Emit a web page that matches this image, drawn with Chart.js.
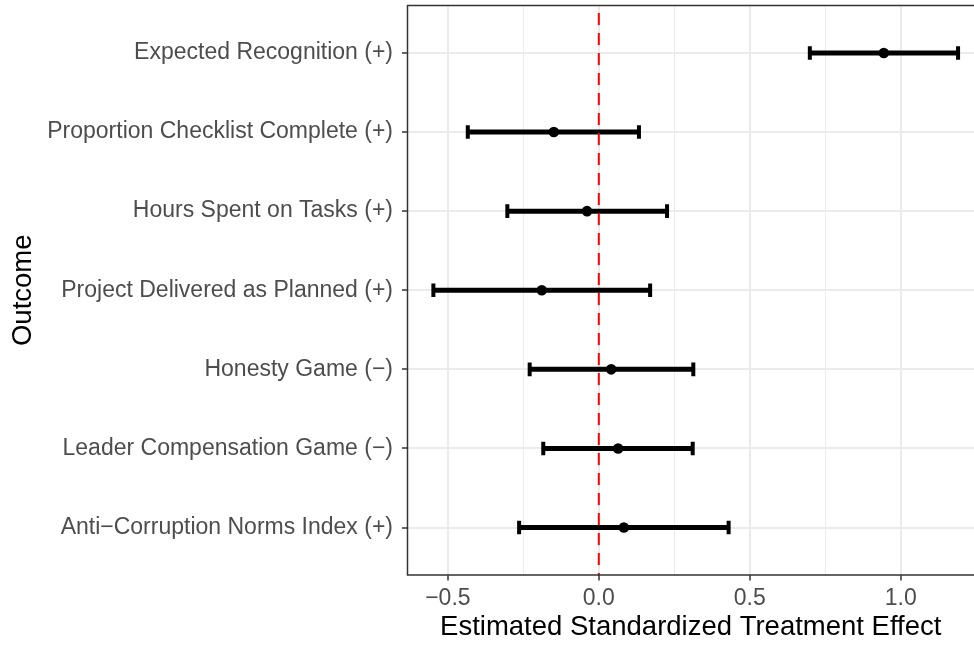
<!DOCTYPE html>
<html>
<head>
<meta charset="utf-8">
<script src="https://cdn.jsdelivr.net/npm/chart.js@4/dist/chart.umd.min.js"></script>
<style>
  html, body { margin: 0; padding: 0; background: #fff; overflow: hidden; }
  #wrap { width: 974px; height: 645px; }
</style>
</head>
<body>
<div id="wrap"><canvas id="chart"></canvas></div>
<script>
// ================= DATA (top to bottom as drawn) =================
const outcomes = [
  "Expected Recognition (+)",
  "Proportion Checklist Complete (+)",
  "Hours Spent on Tasks (+)",
  "Project Delivered as Planned (+)",
  "Honesty Game (\u2212)",
  "Leader Compensation Game (\u2212)",
  "Anti\u2212Corruption Norms Index (+)"
];
const estimates = [0.944, -0.149, -0.039, -0.189, 0.041, 0.064, 0.083];
const lowerCI   = [0.699, -0.434, -0.303, -0.548, -0.229, -0.184, -0.264];
const upperCI   = [1.190,  0.133,  0.226,  0.170,  0.313,  0.311,  0.430];
const xMajorTicks = [-0.5, 0, 0.5, 1.0];
const xMinorTicks = [-0.25, 0.25, 0.75];

// rows are numbered bottom-up on a linear y scale
const rowY = i => outcomes.length - i;

// ================= HELPERS =================
function fmtTick(v) {
  const s = Math.abs(v).toFixed(1);
  return v < 0 ? "\u2212" + s : s;
}

const FONT = "'Liberation Sans', Arial, Helvetica, sans-serif";

// panel border like theme_bw (right edge falls just outside the frame)
const panelBorder = {
  id: "panelBorder",
  afterDatasetsDraw(chart) {
    const { ctx, chartArea: a } = chart;
    ctx.save();
    ctx.strokeStyle = "#333333";
    ctx.lineWidth = 1.5;
    ctx.beginPath();
    ctx.moveTo(a.right + 2, a.top);
    ctx.lineTo(a.left, a.top);
    ctx.lineTo(a.left, a.bottom);
    ctx.lineTo(a.right + 2, a.bottom);
    ctx.stroke();
    ctx.restore();
  }
};

// ================= DATASETS =================
const datasets = [];

// dashed zero line (drawn on top)
datasets.push({
  type: "line",
  data: [{ x: 0, y: 7.6 }, { x: 0, y: 0.4 }],
  borderColor: "#ff0000",
  borderWidth: 2,
  borderDash: [12, 8],
  borderDashOffset: 12.5,
  pointRadius: 0,
  fill: false
});

// point estimates
datasets.push({
  type: "scatter",
  data: estimates.map((v, i) => ({ x: v, y: rowY(i) })),
  backgroundColor: "#000",
  borderColor: "#000",
  pointRadius: 5.3,
  pointBorderWidth: 0
});

// error bars: one line per outcome, caps via rotated line points
outcomes.forEach((name, i) => {
  datasets.push({
    type: "line",
    data: [{ x: lowerCI[i], y: rowY(i) }, { x: upperCI[i], y: rowY(i) }],
    borderColor: "#000",
    borderWidth: 5,
    pointStyle: "line",
    rotation: 90,
    pointRadius: 6.8,
    pointBorderWidth: 4,
    pointBorderColor: "#000",
    borderCapStyle: "butt",
    fill: false
  });
});

// ================= CHART =================
new Chart(document.getElementById("chart"), {
  type: "scatter",
  data: { datasets },
  options: {
    responsive: true,
    maintainAspectRatio: false,
    animation: false,
    events: [],
    layout: { autoPadding: false, padding: { top: 5.5, right: 0, bottom: 0, left: 0 } },
    plugins: { legend: { display: false }, tooltip: { enabled: false } },
    scales: {
      x: {
        type: "linear",
        min: -0.6337,
        max: 1.2428,
        afterBuildTicks: s => {
          s.ticks = [...xMajorTicks, ...xMinorTicks].sort((a, b) => a - b).map(v => ({ value: v }));
        },
        afterFit: s => { s.height = 70; s.paddingLeft = 0; s.paddingRight = 0; },
        ticks: {
          autoSkip: false,
          maxRotation: 0,
          padding: 4,
          color: "#4d4d4d",
          font: { family: FONT, size: 23 },
          callback: v => xMajorTicks.includes(v) ? fmtTick(v) : ""
        },
        grid: {
          color: "#ebebeb",
          lineWidth: c => xMajorTicks.includes(c.tick.value) ? 2 : 1,
          tickColor: c => xMajorTicks.includes(c.tick.value) ? "#333333" : "rgba(0,0,0,0)",
          tickLength: 5.5,
          tickWidth: 1.5
        },
        border: { display: false },
        title: {
          display: true,
          text: "Estimated Standardized Treatment Effect",
          color: "#000",
          font: { family: FONT, size: 27.5 },
          padding: { top: 0, bottom: 1 }
        }
      },
      y: {
        type: "linear",
        min: 0.4,
        max: 7.6,
        afterBuildTicks: s => {
          s.ticks = outcomes.map((_, i) => ({ value: rowY(i) }));
        },
        afterFit: s => { s.width = 407.5; s.paddingTop = 0; s.paddingBottom = 0; },
        ticks: {
          autoSkip: false,
          padding: 9,
          color: "#4d4d4d",
          font: { family: FONT, size: 23 },
          callback: v => outcomes[outcomes.length - v]
        },
        grid: {
          color: "#ebebeb",
          lineWidth: 2,
          tickColor: "#333333",
          tickLength: 5.5,
          tickWidth: 1.5
        },
        border: { display: false },
        title: {
          display: true,
          text: "Outcome",
          color: "#000",
          font: { family: FONT, size: 27.5 },
          padding: { top: 7, bottom: 0 }
        }
      }
    }
  },
  plugins: [panelBorder]
});
</script>
</body>
</html>
